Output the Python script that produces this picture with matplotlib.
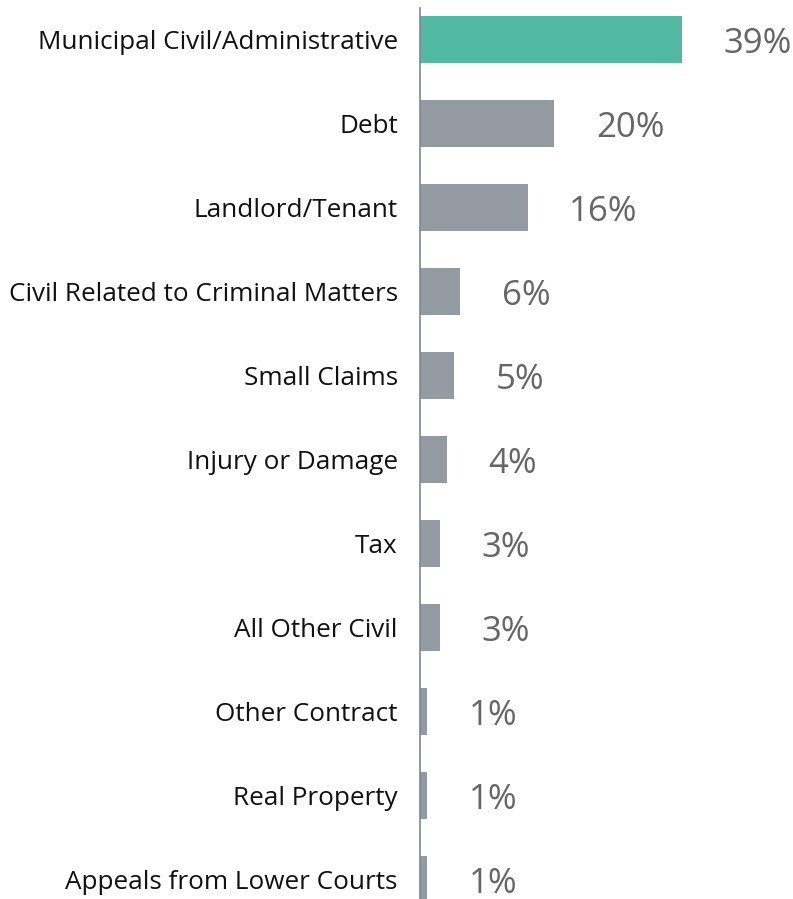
import matplotlib
matplotlib.use("Agg")
import matplotlib.pyplot as plt

categories = ["Municipal Civil/Administrative", "Debt", "Landlord/Tenant",
              "Civil Related to Criminal Matters", "Small Claims",
              "Injury or Damage", "Tax", "All Other Civil", "Other Contract",
              "Real Property", "Appeals from Lower Courts"]
shares = [39, 20, 16, 6, 5, 4, 3, 3, 1, 1, 1]
value_labels = ["39%", "20%", "16%", "6%", "5%", "4%", "3%", "3%", "1%", "1%", "1%"]

green = "#52b9a2"
grey = "#939aa1"

plt.rcParams['font.family'] = ['Open Sans', 'DejaVu Sans']

fig = plt.figure(figsize=(7.93, 8.99), dpi=100)
ax = fig.add_axes([420 / 793, 0, 1 - 420 / 793, 891 / 899])

ypos = list(range(len(categories)))
colors = [green] + [grey] * (len(categories) - 1)
ax.barh(ypos, shares, height=0.56, color=colors)

for y, v, lab in zip(ypos, shares, value_labels):
    ax.annotate(lab, (v, y), xytext=(30, 0), textcoords="offset points",
                ha="left", va="center_baseline", fontsize=25, color="#666666")

ax.set_xlim(0, 55.5)
ax.set_ylim(10.232, -0.375)
ax.set_yticks(ypos)
ax.set_yticklabels(categories, fontsize=18.8, color="#111111", va="center_baseline")
ax.tick_params(axis="y", length=0, pad=16)
ax.set_xticks([])
for s in ["top", "right", "bottom"]:
    ax.spines[s].set_visible(False)
ax.spines["left"].set_color("#7d8791")
ax.spines["left"].set_linewidth(1.2)

fig.savefig("out.png", dpi=100)
